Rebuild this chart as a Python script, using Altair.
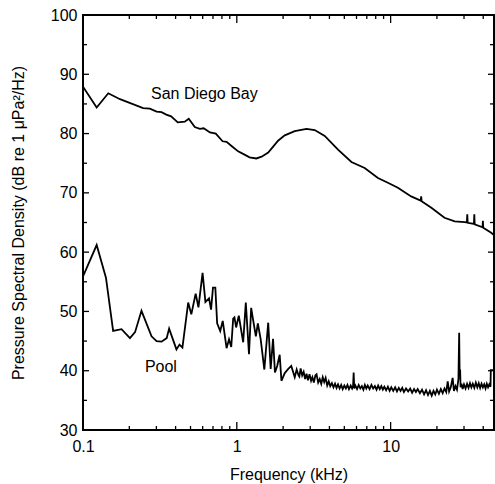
import altair as alt
import pandas as pd

# ---- data ----
sd_freq = [0.1, 0.1227, 0.146, 0.174, 0.246, 0.272, 0.301, 0.324, 0.348, 0.374, 0.413, 0.459,
           0.487, 0.533, 0.575, 0.609, 0.669, 0.73, 0.808, 0.858, 0.924, 1.02, 1.13, 1.21, 1.34,
           1.45, 1.6, 1.75, 1.854, 2.05, 2.38, 2.84, 3.21, 3.73, 4.55, 5.56, 6.78, 8.27, 9.6,
           11.15, 13.6, 15.7, 15.8, 15.9, 18.4, 22.4, 26.1, 30.3, 31.3, 31.5, 31.7, 34.8, 35.0,
           35.2, 39.6, 39.8, 40.0, 44.8, 47.0]
sd_level = [87.9, 84.4, 86.8, 85.8, 84.3, 84.2, 83.7, 83.6, 83.2, 82.9, 81.9, 82.0,
            82.5, 81.1, 80.8, 80.9, 80.2, 80.0, 78.7, 78.6, 77.9, 77.0, 76.4, 76.0, 75.8,
            76.1, 76.8, 78.0, 78.8, 79.7, 80.4, 80.8, 80.6, 79.6, 77.3, 75.2, 74.2, 72.5, 71.7,
            70.85, 69.4, 68.7, 69.4, 68.6, 67.5, 65.8, 65.2, 65.05, 65.0, 66.4, 64.95, 64.75, 66.4,
            64.7, 64.2, 65.3, 64.1, 63.3, 62.9]

pool_freq = [0.1, 0.1227, 0.141, 0.157, 0.178, 0.202, 0.218, 0.24, 0.279, 0.301, 0.324, 0.35,
             0.363, 0.405, 0.424, 0.443, 0.483, 0.506, 0.54, 0.563, 0.599, 0.625, 0.66, 0.68,
             0.70, 0.725, 0.745, 0.78, 0.81, 0.858, 0.89, 0.92, 0.947, 0.965, 0.99, 1.03, 1.1,
             1.144, 1.20, 1.24, 1.27, 1.33, 1.37, 1.43, 1.51, 1.60, 1.66, 1.72, 1.77, 1.83, 1.90,
             1.95, 2.05, 2.16, 2.26, 2.38, 2.45,
             2.52, 2.55, 2.6, 2.66, 2.72, 2.78, 2.84, 2.9, 2.97, 3.04, 3.1, 3.17, 3.24, 3.3, 3.38,
             3.46, 3.54, 3.62, 3.7, 3.78, 3.87, 3.96, 4.05, 4.15, 4.25, 4.35, 4.45, 4.55, 4.66,
             4.77, 4.88, 5.0, 5.12, 5.24, 5.36, 5.5, 5.62, 5.7, 5.75, 5.8, 5.9, 6.05, 6.2, 6.35,
             6.5, 6.65, 6.8, 6.95, 7.1, 7.3, 7.5, 7.7, 7.9, 8.1, 8.3, 8.5, 8.7, 8.9, 9.1, 9.35,
             9.6, 9.85, 10.1, 10.4, 10.7, 11.0, 11.3, 11.6, 11.9, 12.2, 12.6, 13.0, 13.4, 13.8,
             14.2, 14.6, 15.0, 15.5, 16.0, 16.5, 17.0, 17.5, 18.0, 18.5, 19.0, 19.5, 20.0, 20.6,
             21.2, 21.8, 22.4, 23.0, 23.5, 24.0, 24.6, 25.3, 25.8, 26.4, 27.0, 27.6, 27.9, 28.1,
             28.3, 28.5, 28.9, 29.4, 30.0, 30.7, 31.4, 32.1, 32.8, 33.5, 34.2, 35.0, 35.8, 36.6,
             37.4, 38.2, 39.0, 39.8, 40.6, 41.4, 42.2, 43.0, 43.8, 44.6, 44.8, 47.0]
pool_level = [55.9, 61.2, 55.7, 46.7, 47.0, 45.5, 46.5, 50.1, 45.8, 45.0, 44.9, 45.5,
              47.1, 43.6, 44.4, 43.9, 51.5, 49.5, 53.0, 50.7, 56.5, 51.6, 52.2, 50.3,
              54.0, 54.0, 48.0, 46.7, 48.4, 43.8, 45.3, 44.0, 48.8, 49.0, 47.3, 49.3, 44.8,
              51.5, 42.8, 50.6, 48.9, 45.8, 48.0, 45.3, 40.2, 48.1, 40.3, 45.4, 39.7, 40.8, 42.7,
              38.3, 39.6, 40.3, 40.8, 38.9, 40.2,
              39.2, 39.0, 40.4, 39.2, 39.8, 38.6, 39.5, 38.4, 39.4, 38.3, 38.9, 38.0, 39.2, 39.4, 38.0,
              38.6, 37.8, 38.9, 38.1, 38.8, 37.5, 38.2, 37.4, 37.9, 37.2, 37.8, 37.1, 37.7, 37.0,
              37.6, 36.9, 37.5, 37.0, 37.6, 36.9, 37.5, 37.0, 37.4, 39.7, 37.0, 37.5, 36.9, 37.6, 37.0,
              37.4, 36.8, 37.6, 37.0, 37.5, 36.9, 37.6, 37.0, 37.4, 36.8, 37.5, 36.9, 37.4, 36.8, 37.3, 36.7,
              37.3, 36.6, 37.2, 36.6, 37.2, 36.5, 37.1, 36.6, 37.1, 36.4, 37.0, 36.5, 37.0, 36.3,
              36.9, 36.4, 36.9, 36.2, 36.8, 36.0, 36.7, 35.9, 36.6, 35.8, 36.6, 36.0, 36.8, 36.1,
              36.9, 36.2, 37.0, 36.4, 38.2, 36.5, 37.2, 38.8, 36.6, 37.4, 36.8, 38.6, 46.4, 39.5,
              40.2, 37.2, 37.8, 36.9, 37.7, 37.0, 37.8, 37.1, 37.9, 37.2, 37.8, 37.1, 38.0, 37.2,
              37.9, 37.1, 37.8, 37.2, 37.7, 37.0, 37.8, 37.2, 37.7, 37.3, 40.1, 40.1]

labels_text = ["San Diego Bay", "Pool"]
labels_freq = [0.615, 0.321]
labels_level = [86.6, 40.6]

x_major = [0.1, 1, 10]
x_minor = [0.2, 0.3, 0.4, 0.5, 0.6, 0.7, 0.8, 0.9, 2, 3, 4, 5, 6, 7, 8, 9, 20, 30, 40]
y_major = [30, 40, 50, 60, 70, 80, 90, 100]
y_minor = [35, 45, 55, 65, 75, 85, 95]

# ---- tables ----
curves = pd.concat([
    pd.DataFrame({"f": sd_freq, "v": sd_level, "s": "San Diego Bay", "i": range(len(sd_freq))}),
    pd.DataFrame({"f": pool_freq, "v": pool_level, "s": "Pool", "i": range(len(pool_freq))}),
])
labels_df = pd.DataFrame({"f": labels_freq, "v": labels_level, "t": labels_text})

W, H = 411, 415
FONT = "Liberation Sans"

xscale = alt.Scale(type="log", domain=[0.1, 47], nice=False)
yscale = alt.Scale(domain=[30, 100], nice=False, zero=False)

xaxis = alt.Axis(values=x_major, format="~g", ticks=False, domain=False, grid=False,
                 tickSize=0, labelPadding=8, labelFontSize=16, labelFont=FONT, labelColor="black",
                 title="Frequency (kHz)", titleFontSize=16, titleFont=FONT, titleFontWeight="normal",
                 titleColor="black", titlePadding=12, labelFlush=False)
yaxis = alt.Axis(values=y_major, ticks=False, domain=False, grid=False, tickSize=0,
                 labelPadding=6, labelFontSize=16, labelFont=FONT, labelColor="black",
                 title="Pressure Spectral Density (dB re 1 μPa²/Hz)", titleFontSize=16,
                 titleFont=FONT, titleFontWeight="normal", titleColor="black", titlePadding=24)

lines = alt.Chart(curves).mark_line(color="black", strokeWidth=1.8, clip=True).encode(
    x=alt.X("f:Q", scale=xscale, axis=xaxis),
    y=alt.Y("v:Q", scale=yscale, axis=yaxis),
    detail="s:N",
    order="i:Q",
)

texts = alt.Chart(labels_df).mark_text(font=FONT, fontSize=16, color="black").encode(
    x=alt.X("f:Q", scale=xscale, axis=xaxis),
    y=alt.Y("v:Q", scale=yscale, axis=yaxis),
    text="t:N",
)

def xticks(vals, length):
    df = pd.DataFrame({"f": vals})
    bottom = alt.Chart(df).mark_rule(color="black", strokeWidth=1.3).encode(
        x=alt.X("f:Q", scale=xscale, axis=xaxis), y=alt.value(H), y2=alt.value(H - length))
    top = alt.Chart(df).mark_rule(color="black", strokeWidth=1.3).encode(
        x=alt.X("f:Q", scale=xscale, axis=xaxis), y=alt.value(0), y2=alt.value(length))
    return [bottom, top]

def yticks(vals, length):
    df = pd.DataFrame({"v": vals})
    left = alt.Chart(df).mark_rule(color="black", strokeWidth=1.3).encode(
        y=alt.Y("v:Q", scale=yscale, axis=yaxis), x=alt.value(0), x2=alt.value(length))
    right = alt.Chart(df).mark_rule(color="black", strokeWidth=1.3).encode(
        y=alt.Y("v:Q", scale=yscale, axis=yaxis), x=alt.value(W), x2=alt.value(W - length))
    return [left, right]

layers = [lines, texts] + xticks(x_major, 8) + xticks(x_minor, 4) + yticks(y_major, 6) + yticks(y_minor, 4)

chart = alt.layer(*layers).properties(
    width=W, height=H,
    autosize=alt.AutoSizeParams(type="none"),
    padding={"left": 83, "top": 15, "right": 1, "bottom": 54},
    background="white",
).configure_view(stroke="black", strokeWidth=2)

chart.save("out.html", embed_options={"renderer": "svg", "actions": False})
